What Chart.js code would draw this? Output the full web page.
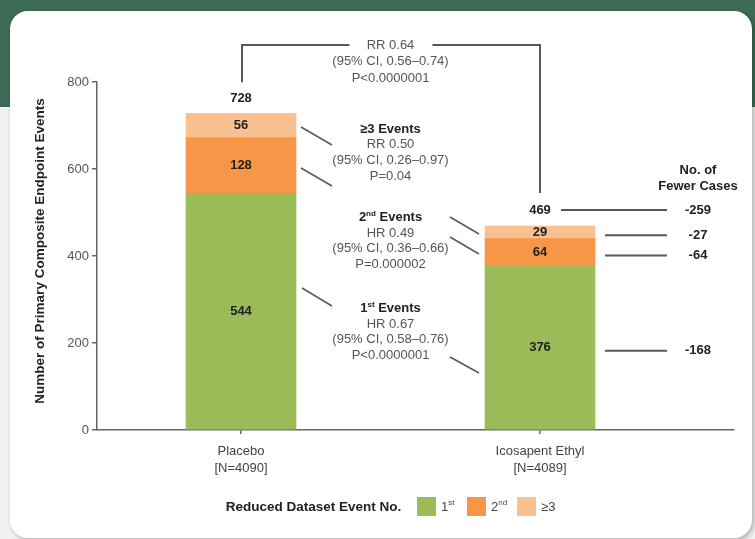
<!DOCTYPE html>
<html>
<head>
<meta charset="utf-8">
<script src="https://cdn.jsdelivr.net/npm/chart.js@4/dist/chart.umd.min.js"></script>
<style>
  html, body { margin: 0; padding: 0; }
  body {
    width: 755px; height: 539px; overflow: hidden; position: relative;
    background: linear-gradient(to bottom, #3d6a55 0px, #3d6a55 107px, #f1f1f1 107px, #f1f1f1 100%);
  }
  #card {
    position: absolute; left: 10px; top: 11px; width: 742px; height: 527px;
    background: #ffffff; border-radius: 18px;
    box-shadow: 2px 2px 5px rgba(0,0,0,0.28);
  }
  #chart { position: absolute; left: 0; top: 0; }
</style>
</head>
<body>
<div id="card"></div>
<canvas id="chart" width="755" height="539"></canvas>
<script>
// Primary composite endpoint events by event number
const categories = ['Placebo', 'Icosapent Ethyl'];
const groupSizes = ['[N=4090]', '[N=4089]'];
const seriesNames = ['1st', '2nd', '≥3'];
const firstEvents = [544, 376];
const secondEvents = [128, 64];
const thirdPlusEvents = [56, 29];
const yTicks = [0, 200, 400, 600, 800];
const seriesColors = ['#9bbb59', '#f79646', '#fac090'];

// Statistics shown between the bars
const overallStats = ['RR 0.64', '(95% CI, 0.56–0.74)', 'P<0.0000001'];
const thirdStats = ['≥3 Events', 'RR 0.50', '(95% CI, 0.26–0.97)', 'P=0.04'];
const secondStats = ['2|nd| Events', 'HR 0.49', '(95% CI, 0.36–0.66)', 'P=0.000002'];
const firstStats = ['1|st| Events', 'HR 0.67', '(95% CI, 0.58–0.76)', 'P<0.0000001'];

const FONT = '"Liberation Sans", Arial, Helvetica, sans-serif';
const DARK = '#222222';
const GREY = '#555555';
const LINE = '#585858';

const seriesValues = [firstEvents, secondEvents, thirdPlusEvents];
const totals = categories.map((_, i) => firstEvents[i] + secondEvents[i] + thirdPlusEvents[i]);

const datasets = seriesValues.map((vals, s) => ({
  label: seriesNames[s],
  data: vals.map((v, i) => ({ x: i, y: v })),
  backgroundColor: seriesColors[s],
  borderWidth: 0,
  barThickness: 110
}));

// Draw text that may contain a superscript part, written as "base|sup|rest"
function richText(ctx, str, x, y, size, bold, color) {
  const parts = str.split('|');
  const w = bold ? 'bold ' : '';
  const big = w + size + 'px ' + FONT;
  const small = w + Math.round(size * 0.62) + 'px ' + FONT;
  const segs = parts.map((t, k) => ({ t, sup: k === 1 }));
  let total = 0;
  segs.forEach(s => { ctx.font = s.sup ? small : big; s.w = ctx.measureText(s.t).width; total += s.w; });
  let cx = x - total / 2;
  ctx.fillStyle = color;
  ctx.textAlign = 'left';
  ctx.textBaseline = 'middle';
  segs.forEach(s => {
    ctx.font = s.sup ? small : big;
    ctx.fillText(s.t, cx, s.sup ? y - size * 0.32 : y);
    cx += s.w;
  });
}

function statBlock(ctx, lines, x, y0, step) {
  lines.forEach((ln, k) => {
    richText(ctx, ln, x, y0 + k * step, 13, k === 0, k === 0 ? DARK : GREY);
  });
}

function seg(ctx, x1, y1, x2, y2, w) {
  ctx.beginPath();
  ctx.moveTo(x1, y1);
  ctx.lineTo(x2, y2);
  ctx.lineWidth = w || 1.5;
  ctx.strokeStyle = LINE;
  ctx.stroke();
}

const annotations = {
  id: 'annotations',
  afterDatasetsDraw(chart) {
    const ctx = chart.ctx;
    const xs = chart.scales.x, ys = chart.scales.y;
    ctx.save();

    // values inside each stacked segment
    const mids = [];
    chart.data.datasets.forEach((ds, di) => {
      const meta = chart.getDatasetMeta(di);
      mids[di] = [];
      meta.data.forEach((bar, i) => {
        const ym = (bar.y + bar.base) / 2;
        mids[di][i] = ym;
        richText(ctx, String(ds.data[i].y), bar.x, ym, 13, true, DARK);
      });
    });

    // totals above the bars
    const xP = xs.getPixelForValue(0), xI = xs.getPixelForValue(1);
    const topP = ys.getPixelForValue(totals[0]), topI = ys.getPixelForValue(totals[1]);
    const totY = [topP - 15, topI - 16];
    richText(ctx, String(totals[0]), xP, totY[0], 13, true, DARK);
    richText(ctx, String(totals[1]), xI, totY[1], 13, true, DARK);

    // overall bracket
    const xMid = xs.getPixelForValue(0.5);
    const bY = 45;
    ctx.lineJoin = 'miter';
    ctx.beginPath();
    ctx.moveTo(xP + 1, topP - 31);
    ctx.lineTo(xP + 1, bY);
    ctx.lineTo(xMid - 41, bY);
    ctx.lineWidth = 2; ctx.strokeStyle = LINE; ctx.stroke();
    ctx.beginPath();
    ctx.moveTo(xMid + 42, bY);
    ctx.lineTo(xI, bY);
    ctx.lineTo(xI, topI - 33);
    ctx.stroke();
    overallStats.forEach((ln, k) => richText(ctx, ln, xMid, bY + k * 16.8, 13, false, GREY));

    // statistics blocks between the bars
    statBlock(ctx, thirdStats, xMid, 129, 15.7);
    statBlock(ctx, secondStats, xMid, 217.5, 15.6);
    statBlock(ctx, firstStats, xMid, 308.5, 15.6);

    // leader lines from the placebo bar
    const pR = xP + 55, iL = xI - 55, iR = xI + 55;
    seg(ctx, pR + 5, 127, pR + 36, 145);
    seg(ctx, pR + 5, 168, pR + 36, 186);
    seg(ctx, pR + 6, 288, pR + 36, 306);
    // leader lines to the icosapent bar
    seg(ctx, iL - 35, 217, iL - 6, 234);
    seg(ctx, iL - 35, 237, iL - 6, 254);
    seg(ctx, iL - 35, 357, iL - 6, 373);

    // fewer cases column
    const fx = 698;
    richText(ctx, 'No. of', fx, 170, 13, true, DARK);
    richText(ctx, 'Fewer Cases', fx, 186, 13, true, DARK);
    seg(ctx, xI + 21, totY[1], 667, totY[1], 2);
    richText(ctx, String(totals[1] - totals[0]), fx, totY[1], 13, true, DARK);
    [2, 1, 0].forEach(s => {
      const y = mids[s][1] + 3;
      seg(ctx, iR + 10, y, 667, y, 2);
      richText(ctx, String(seriesValues[s][1] - seriesValues[s][0]), fx, y, 13, true, DARK);
    });

    // y axis title
    ctx.save();
    ctx.translate(40, 251);
    ctx.rotate(-Math.PI / 2);
    richText(ctx, 'Number of Primary Composite Endpoint Events', 0, 0, 13.5, true, DARK);
    ctx.restore();

    // legend
    richText(ctx, 'Reduced Dataset Event No.', 313.5, 507, 13.5, true, DARK);
    const lx = [417, 467, 517];
    const lbl = ['1|st|', '2|nd|', '≥3'];
    lx.forEach((x, s) => {
      ctx.fillStyle = seriesColors[s];
      ctx.fillRect(x, 497, 19, 19);
      const parts = lbl[s].split('|');
      ctx.font = '13px ' + FONT;
      let w = ctx.measureText(parts[0]).width;
      if (parts[1]) { ctx.font = '8px ' + FONT; w += ctx.measureText(parts[1]).width; }
      richText(ctx, lbl[s], x + 24 + w / 2, 507, 13, false, '#444444');
    });

    ctx.restore();
  }
};

new Chart(document.getElementById('chart'), {
  type: 'bar',
  data: { datasets },
  options: {
    responsive: false,
    animation: false,
    layout: { padding: { top: 82, right: 21, bottom: 0, left: 0 } },
    plugins: { legend: { display: false }, tooltip: { enabled: false } },
    scales: {
      x: {
        type: 'linear',
        stacked: true,
        offset: false,
        min: -0.4816,
        max: 1.6488,
        afterBuildTicks(scale) { scale.ticks = [{ value: 0 }, { value: 1 }]; },
        afterFit(scale) { scale.height = 109; },
        ticks: {
          autoSkip: false,
          padding: 9,
          color: '#444444',
          font: { family: FONT, size: 13, lineHeight: 1.3 },
          callback: (v) => [categories[v], groupSizes[v]]
        },
        grid: { offset: false, drawOnChartArea: false, drawTicks: true, tickLength: 4, color: '#666666', lineWidth: 1.5 },
        border: { display: true, color: '#666666', width: 1.5 }
      },
      y: {
        stacked: true,
        min: 0,
        max: 800,
        afterBuildTicks(scale) { scale.ticks = yTicks.map(v => ({ value: v })); },
        afterFit(scale) { scale.width = 97; },
        ticks: {
          padding: 3,
          color: '#555555',
          font: { family: FONT, size: 13 }
        },
        grid: { drawOnChartArea: false, drawTicks: true, tickLength: 5, color: '#666666', lineWidth: 1.5 },
        border: { display: true, color: '#666666', width: 1.5 }
      }
    }
  },
  plugins: [annotations]
});
</script>
</body>
</html>
